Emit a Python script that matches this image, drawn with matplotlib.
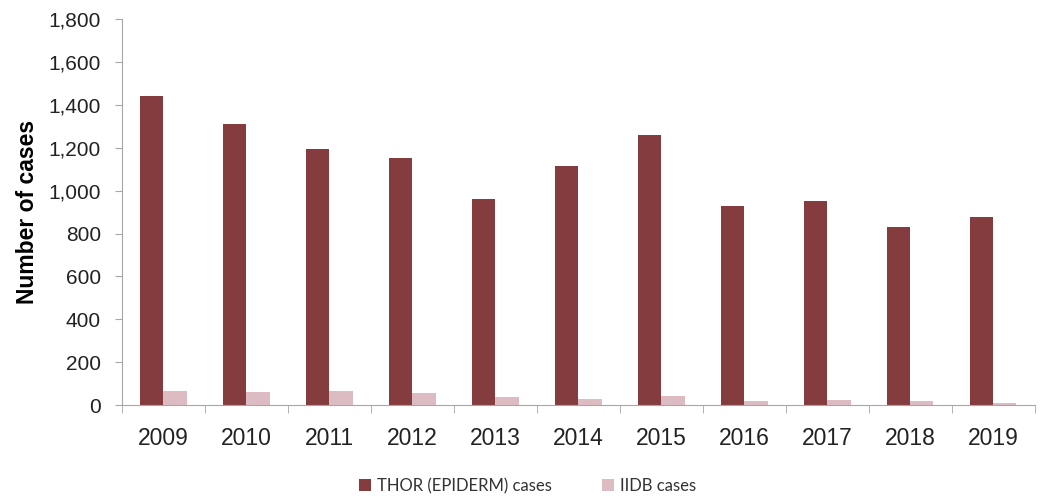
import numpy as np
import matplotlib.pyplot as plt
from matplotlib.ticker import FuncFormatter

years = ["2009", "2010", "2011", "2012", "2013", "2014", "2015", "2016", "2017", "2018", "2019"]
thor_cases = [1440, 1310, 1195, 1150, 960, 1115, 1260, 930, 950, 830, 875]
iidb_cases = [65, 60, 65, 55, 40, 30, 45, 20, 25, 18, 10]

dark = "#843c3f"
light = "#dcbcc2"
grey = "#a6a6a6"

fig = plt.figure(figsize=(10.41, 4.99), dpi=100)
ax = fig.add_axes([0.117, 0.188, 0.877, 0.774])

x = np.arange(len(years))
w = 0.28
ax.bar(x - w / 2, thor_cases, w, color=dark, label="THOR (EPIDERM) cases")
ax.bar(x + w / 2, iidb_cases, w, color=light, label="IIDB cases")

ax.set_xlim(-0.5, len(years) - 0.5)
ax.set_ylim(0, 1800)
ax.set_yticks(range(0, 1801, 200))
ax.yaxis.set_major_formatter(FuncFormatter(lambda v, p: f"{int(v):,}"))

# category labels in the middle, tick marks between categories
ax.set_xticks(x)
ax.set_xticklabels(years, fontsize=16.5, color="#222222", family="Liberation Sans")
ax.set_xticks(np.arange(-0.5, len(years), 1), minor=True)
ax.tick_params(axis="x", which="major", length=0, pad=16)
ax.tick_params(axis="x", which="minor", length=6, color=grey, direction="out")
ax.tick_params(axis="y", length=5, color=grey, labelsize=15, labelcolor="#222222", pad=10)
for lab in ax.get_yticklabels():
    lab.set_family("Liberation Sans")

for s in ["top", "right"]:
    ax.spines[s].set_visible(False)
ax.spines["left"].set_color(grey)
ax.spines["bottom"].set_color(grey)

ax.set_ylabel("Number of cases", fontsize=16.5, fontweight="bold", family="Liberation Sans", labelpad=7)

leg = fig.legend(loc="lower center", bbox_to_anchor=(0.507, -0.02), ncol=2, frameon=False,
                 handlelength=0.7, handleheight=0.7, handletextpad=0.4, columnspacing=3,
                 prop={"family": "Lato", "size": 12})
for t in leg.get_texts():
    t.set_color("#333333")

fig.savefig("out.png", dpi=100)
